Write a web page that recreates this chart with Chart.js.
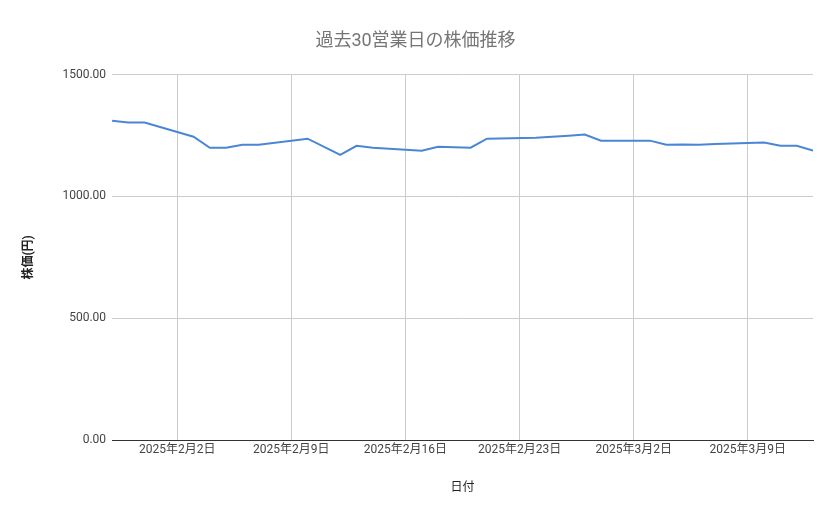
<!DOCTYPE html>
<html>
<head>
<meta charset="utf-8">
<script src="https://cdn.jsdelivr.net/npm/chart.js@4"></script>
<style>
  html, body { margin: 0; padding: 0; background: #fff; }
  #wrap { width: 839px; height: 519px; }
</style>
</head>
<body>
<div id="wrap"><canvas id="chart"></canvas></div>
<script>
const dates = ['2025-01-29','2025-01-30','2025-01-31','2025-02-03','2025-02-04','2025-02-05','2025-02-06','2025-02-07',
  '2025-02-10','2025-02-12','2025-02-13','2025-02-14','2025-02-17','2025-02-18','2025-02-19','2025-02-20','2025-02-21',
  '2025-02-24','2025-02-25','2025-02-26','2025-02-27','2025-02-28','2025-03-03','2025-03-04','2025-03-05','2025-03-06',
  '2025-03-07','2025-03-10','2025-03-11','2025-03-12','2025-03-13']
const prices = [1311,1303,1303,1245,1200,1200,1212,1212,
  1237,1171,1208,1200,1188,1204,1202,1200,1237,
  1241,1245,1249,1254,1229,1229,1212,1213,1212,
  1215,1221,1208,1208,1188]
const yTicks = [0, 500, 1000, 1500]

const DAY = 86400000
const base = Date.UTC(2025, 1, 2)
const toDay = s => (Date.parse(s + 'T00:00:00Z') - base) / DAY
const points = dates.map((d, i) => ({x: toDay(d), y: prices[i]}))

const grey = '#444'
new Chart(document.getElementById('chart'), {
  type: 'line',
  data: {
    datasets: [{
      data: points,
      borderColor: '#4a86d4',
      borderWidth: 2,
      pointRadius: 0,
      tension: 0
    }]
  },
  options: {
    responsive: true,
    maintainAspectRatio: false,
    animation: false,
    layout: {padding: {left: 18, right: 26, top: 10, bottom: 20}},
    plugins: {
      legend: {display: false},
      tooltip: {enabled: false},
      title: {
        display: true,
        text: '過去30営業日の株価推移',
        color: '#757575',
        font: {family: 'Roboto, "Noto Sans CJK JP"', size: 18, weight: 'normal'},
        padding: {top: 21, bottom: 22}
      }
    },
    scales: {
      x: {
        type: 'linear',
        min: toDay('2025-01-29'),
        max: toDay('2025-03-13'),
        afterBuildTicks: ax => { ax.ticks = [0, 7, 14, 21, 28, 35].map(v => ({value: v})) },
        ticks: {
          color: grey,
          font: {family: 'Roboto, "Noto Sans CJK JP"', size: 12},
          maxRotation: 0,
          callback: v => {
            const d = new Date(base + v * DAY)
            return `${d.getUTCFullYear()}年${d.getUTCMonth() + 1}月${d.getUTCDate()}日`
          }
        },
        grid: {color: '#ccc', drawTicks: false},
        border: {color: '#333'},
        title: {display: true, text: '日付', color: '#222',
          font: {family: 'Roboto, "Noto Sans CJK JP"', size: 12}, padding: {top: 20}}
      },
      y: {
        min: 0,
        max: 1500,
        afterBuildTicks: ax => { ax.ticks = yTicks.map(v => ({value: v})) },
        ticks: {
          color: grey,
          padding: 6,
          font: {family: 'Roboto, "Noto Sans CJK JP"', size: 12},
          callback: v => v.toFixed(2)
        },
        grid: {color: '#ccc', drawTicks: false},
        border: {display: false},
        title: {display: true, text: '株価(円)', color: '#222',
          font: {family: 'Roboto, "Noto Sans CJK JP"', size: 12, weight: 'bold'}, padding: {bottom: 20}}
      }
    }
  }
})
</script>
</body>
</html>
